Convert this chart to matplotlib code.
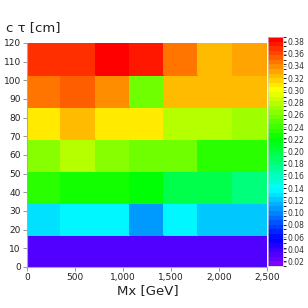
import colorsys
import numpy as np
import matplotlib
matplotlib.use("Agg")
import matplotlib.pyplot as plt
from matplotlib.colors import ListedColormap, BoundaryNorm
from matplotlib.ticker import FuncFormatter

# bin edges of the 2D histogram
mx_edges = np.linspace(0, 2500, 8)
ctau_edges = np.linspace(0, 120, 8)

# efficiency per bin, rows from low c*tau to high c*tau
row_0_17 = [0.031, 0.030, 0.030, 0.031, 0.029, 0.030, 0.030]
row_17_34 = [0.127, 0.135, 0.135, 0.105, 0.135, 0.125, 0.125]
row_34_51 = [0.232, 0.225, 0.223, 0.220, 0.193, 0.195, 0.180]
row_51_69 = [0.263, 0.277, 0.265, 0.258, 0.253, 0.237, 0.237]
row_69_86 = [0.310, 0.323, 0.310, 0.310, 0.275, 0.280, 0.270]
row_86_103 = [0.348, 0.352, 0.337, 0.255, 0.320, 0.321, 0.320]
row_103_120 = [0.369, 0.370, 0.385, 0.375, 0.345, 0.325, 0.328]

z = np.array([row_0_17, row_17_34, row_34_51, row_51_69,
              row_69_86, row_86_103, row_103_120])

# colour scale range shown on the palette
z_lo, z_hi = 0.013, 0.387

# violet -> blue -> cyan -> green -> yellow -> red palette, 50 contours
ncont = 50
cols = [colorsys.hsv_to_rgb(0.75 * (1 - t), 1, 1) for t in np.linspace(0, 1, ncont)]
cmap = ListedColormap(cols)
levels = np.linspace(z_lo, z_hi, ncont + 1)
norm = BoundaryNorm(levels, cmap.N)

W = H = 308
fig = plt.figure(figsize=(W / 100, H / 100), dpi=100)

def px_axes(x0, y0, x1, y1):
    return fig.add_axes([x0 / W, 1 - y1 / H, (x1 - x0) / W, (y1 - y0) / H])

ax = px_axes(27, 43, 267, 267)
mesh = ax.pcolormesh(mx_edges, ctau_edges, z, cmap=cmap, norm=norm, edgecolor='face', linewidth=0.2)
ax.set_xlim(0, 2500)
ax.set_ylim(0, 120)
ax.set_xticks([0, 500, 1000, 1500, 2000, 2500])
ax.set_yticks(np.arange(0, 121, 10))
ax.xaxis.set_major_formatter(FuncFormatter(lambda v, p: f"{int(v):,}"))
ax.tick_params(labelsize=6.5, length=3, width=0.6, color='#888888', pad=1.5, labelcolor='#222222')
for s in ['top', 'right']:
    ax.spines[s].set_visible(False)
for s in ['left', 'bottom']:
    ax.spines[s].set_color('#aaaaaa')
    ax.spines[s].set_linewidth(0.8)

fig.text(148 / W, 1 - 291 / H, "Mx [GeV]", fontsize=9.5, ha='center', va='center', color='#222222')
fig.text(6 / W, 1 - 28 / H, "c τ [cm]", fontsize=9.5, ha='left', va='center', color='#222222')

cax = px_axes(268, 37, 283, 266)
cb = fig.colorbar(plt.cm.ScalarMappable(norm=norm, cmap=cmap), cax=cax,
                  ticks=np.arange(0.02, 0.381, 0.02))
cb.ax.yaxis.set_major_formatter(FuncFormatter(lambda v, p: f"{v:.2f}"))
cb.ax.tick_params(labelsize=5.5, length=2.5, width=0.5, color='#888888', pad=1, labelcolor='#333333')
cb.outline.set_edgecolor('#cccccc')
cb.outline.set_linewidth(0.5)

fig.savefig("out.png", dpi=100)
